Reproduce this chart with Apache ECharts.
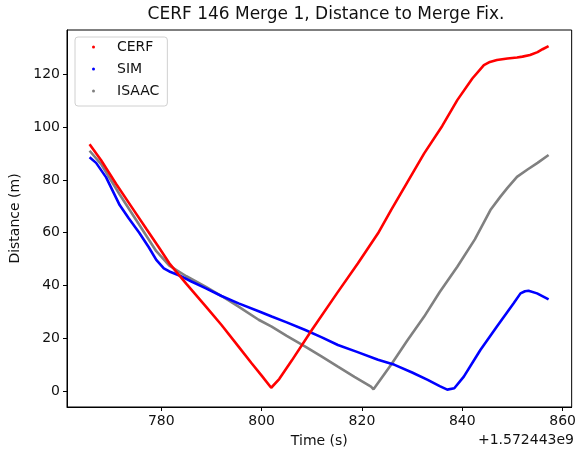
<!DOCTYPE html>
<html>
<head>
<meta charset="utf-8">
<script src="https://cdn.jsdelivr.net/npm/echarts@6/dist/echarts.min.js"></script>
<style>html,body{margin:0;padding:0;background:#fff}#c{width:579px;height:453px}</style>
</head>
<body>
<div id="c"></div>
<script>
// Time offsets (s) from 1.572443e9
const cerfT = [765.7,768,771,774,777,779.5,781.6,785,788.9,792,795.4,798,800,801.9,803.5,806,810,815,819.2,823.2,825.8,829,832.4,836,839,842,844.3,845.5,846.9,849,850.9,852,853.5,855,856,857.2];
const cerfD = [93.6,87.5,78.5,70,61.5,54.5,48.4,40.6,32,25,16.8,10.5,5.8,1.2,4.5,11.5,23.1,37,48.4,59.8,68.6,79,90.1,100.5,110.3,118.5,123.6,124.8,125.5,126.1,126.5,126.8,127.4,128.5,129.6,130.8];
const simT = [765.7,767,769,771.7,773.5,775.6,777.5,779,780.5,781.6,783.6,786,788.9,792,795.4,799.4,802,805,808.7,812,815.2,819,823.2,826.5,830,833.1,835.5,837,838.4,840.3,843.6,846.9,850.2,851.6,852.5,853.2,854.9,857.2];
const simD = [88.6,86.5,81,70.5,65.5,60,54.5,49.7,46.5,45.3,43.8,41.5,38.9,36,33.2,30.2,28.2,26,23.1,20.3,17.4,14.8,11.8,9.9,7,4.2,1.8,0.5,1,5.4,15.5,24.4,33.2,37,37.8,38,37,34.7];
const isaacT = [765.7,768,771.7,775.6,779,781.6,785,788.9,792,795.4,799.4,802,805,808.7,812,815.2,818.5,821.8,822.3,825.8,829,832.4,835.5,839,842.5,845.6,847.6,849,850.9,853,855,857.2];
const isaacD = [91.1,86,74.5,63,53,47.5,43.5,39.5,36,32,27,24.4,20.9,16.8,13,9.2,5.3,1.6,0.6,9.9,19,28.2,37.5,47.1,57.5,68.6,73.7,77,81.2,84,86.5,89.5];
const xTicks = [780,800,820,840,860];
const yTicks = [0,20,40,60,80,100,120];
const seriesNames = ['CERF','SIM','ISAAC'];
const seriesColors = ['#ff0000','#0000ff','#808080'];

const zip = (t, d) => t.map((v, i) => [v, d[i]]);
const allData = [zip(cerfT, cerfD), zip(simT, simD), zip(isaacT, isaacD)];

const chart = echarts.init(document.getElementById('c'), null, {renderer: 'canvas'});
const font = 'DejaVu Sans';
chart.setOption({
  animation: false,
  backgroundColor: '#fff',
  title: {
    text: 'CERF 146 Merge 1, Distance to Merge Fix.',
    left: 321, textAlign: 'center', top: 1,
    textStyle: {fontFamily: font, fontSize: 17, fontWeight: 'normal', color: '#111'}
  },
  legend: {
    orient: 'vertical', left: 75, top: 37,
    padding: [3, 8, 8, 17],
    itemGap: 8, itemWidth: 3, itemHeight: 3,
    icon: 'circle',
    borderColor: '#d0d0d0', borderWidth: 1, borderRadius: 3,
    backgroundColor: 'rgba(255,255,255,0.8)',
    textStyle: {fontFamily: font, fontSize: 14, color: '#111', padding: [0, 0, 0, 17]},
    data: seriesNames
  },
  grid: {left: 67, right: 4, top: 30, bottom: 46, show: true, borderColor: '#000', borderWidth: 1, containLabel: false},
  xAxis: {
    type: 'value', min: 761.2, max: 861.8,
    name: 'Time (s)', nameLocation: 'middle', nameGap: 27,
    nameTextStyle: {fontFamily: font, fontSize: 14, color: '#111'},
    axisLine: {show: true, onZero: false, lineStyle: {color: '#000'}},
    axisTick: {show: true, length: 4, customValues: xTicks, lineStyle: {color: '#000'}},
    axisLabel: {customValues: xTicks, fontFamily: font, fontSize: 14, color: '#111', margin: 7},
    splitLine: {show: false}
  },
  yAxis: {
    type: 'value', min: -6.1, max: 136.9,
    name: 'Distance (m)', nameLocation: 'middle', nameGap: 43, nameRotate: 90,
    nameTextStyle: {fontFamily: font, fontSize: 14, color: '#111'},
    axisLine: {show: true, onZero: false, lineStyle: {color: '#000'}},
    axisTick: {show: true, length: 4, customValues: yTicks, lineStyle: {color: '#000'}},
    axisLabel: {customValues: yTicks, fontFamily: font, fontSize: 14, color: '#111', margin: 7},
    splitLine: {show: false}
  },
  graphic: [{
    type: 'text', right: 5, top: 433,
    style: {text: '+1.572443e9', font: '14px "DejaVu Sans"', fill: '#111'}
  }],
  series: seriesNames.map((n, i) => ({
    name: n, type: 'line', data: allData[i],
    showSymbol: false, symbol: 'circle', symbolSize: 3,
    itemStyle: {color: seriesColors[i]},
    lineStyle: {color: seriesColors[i], width: 2.6},
    z: 3 - i
  }))
});
</script>
</body>
</html>
